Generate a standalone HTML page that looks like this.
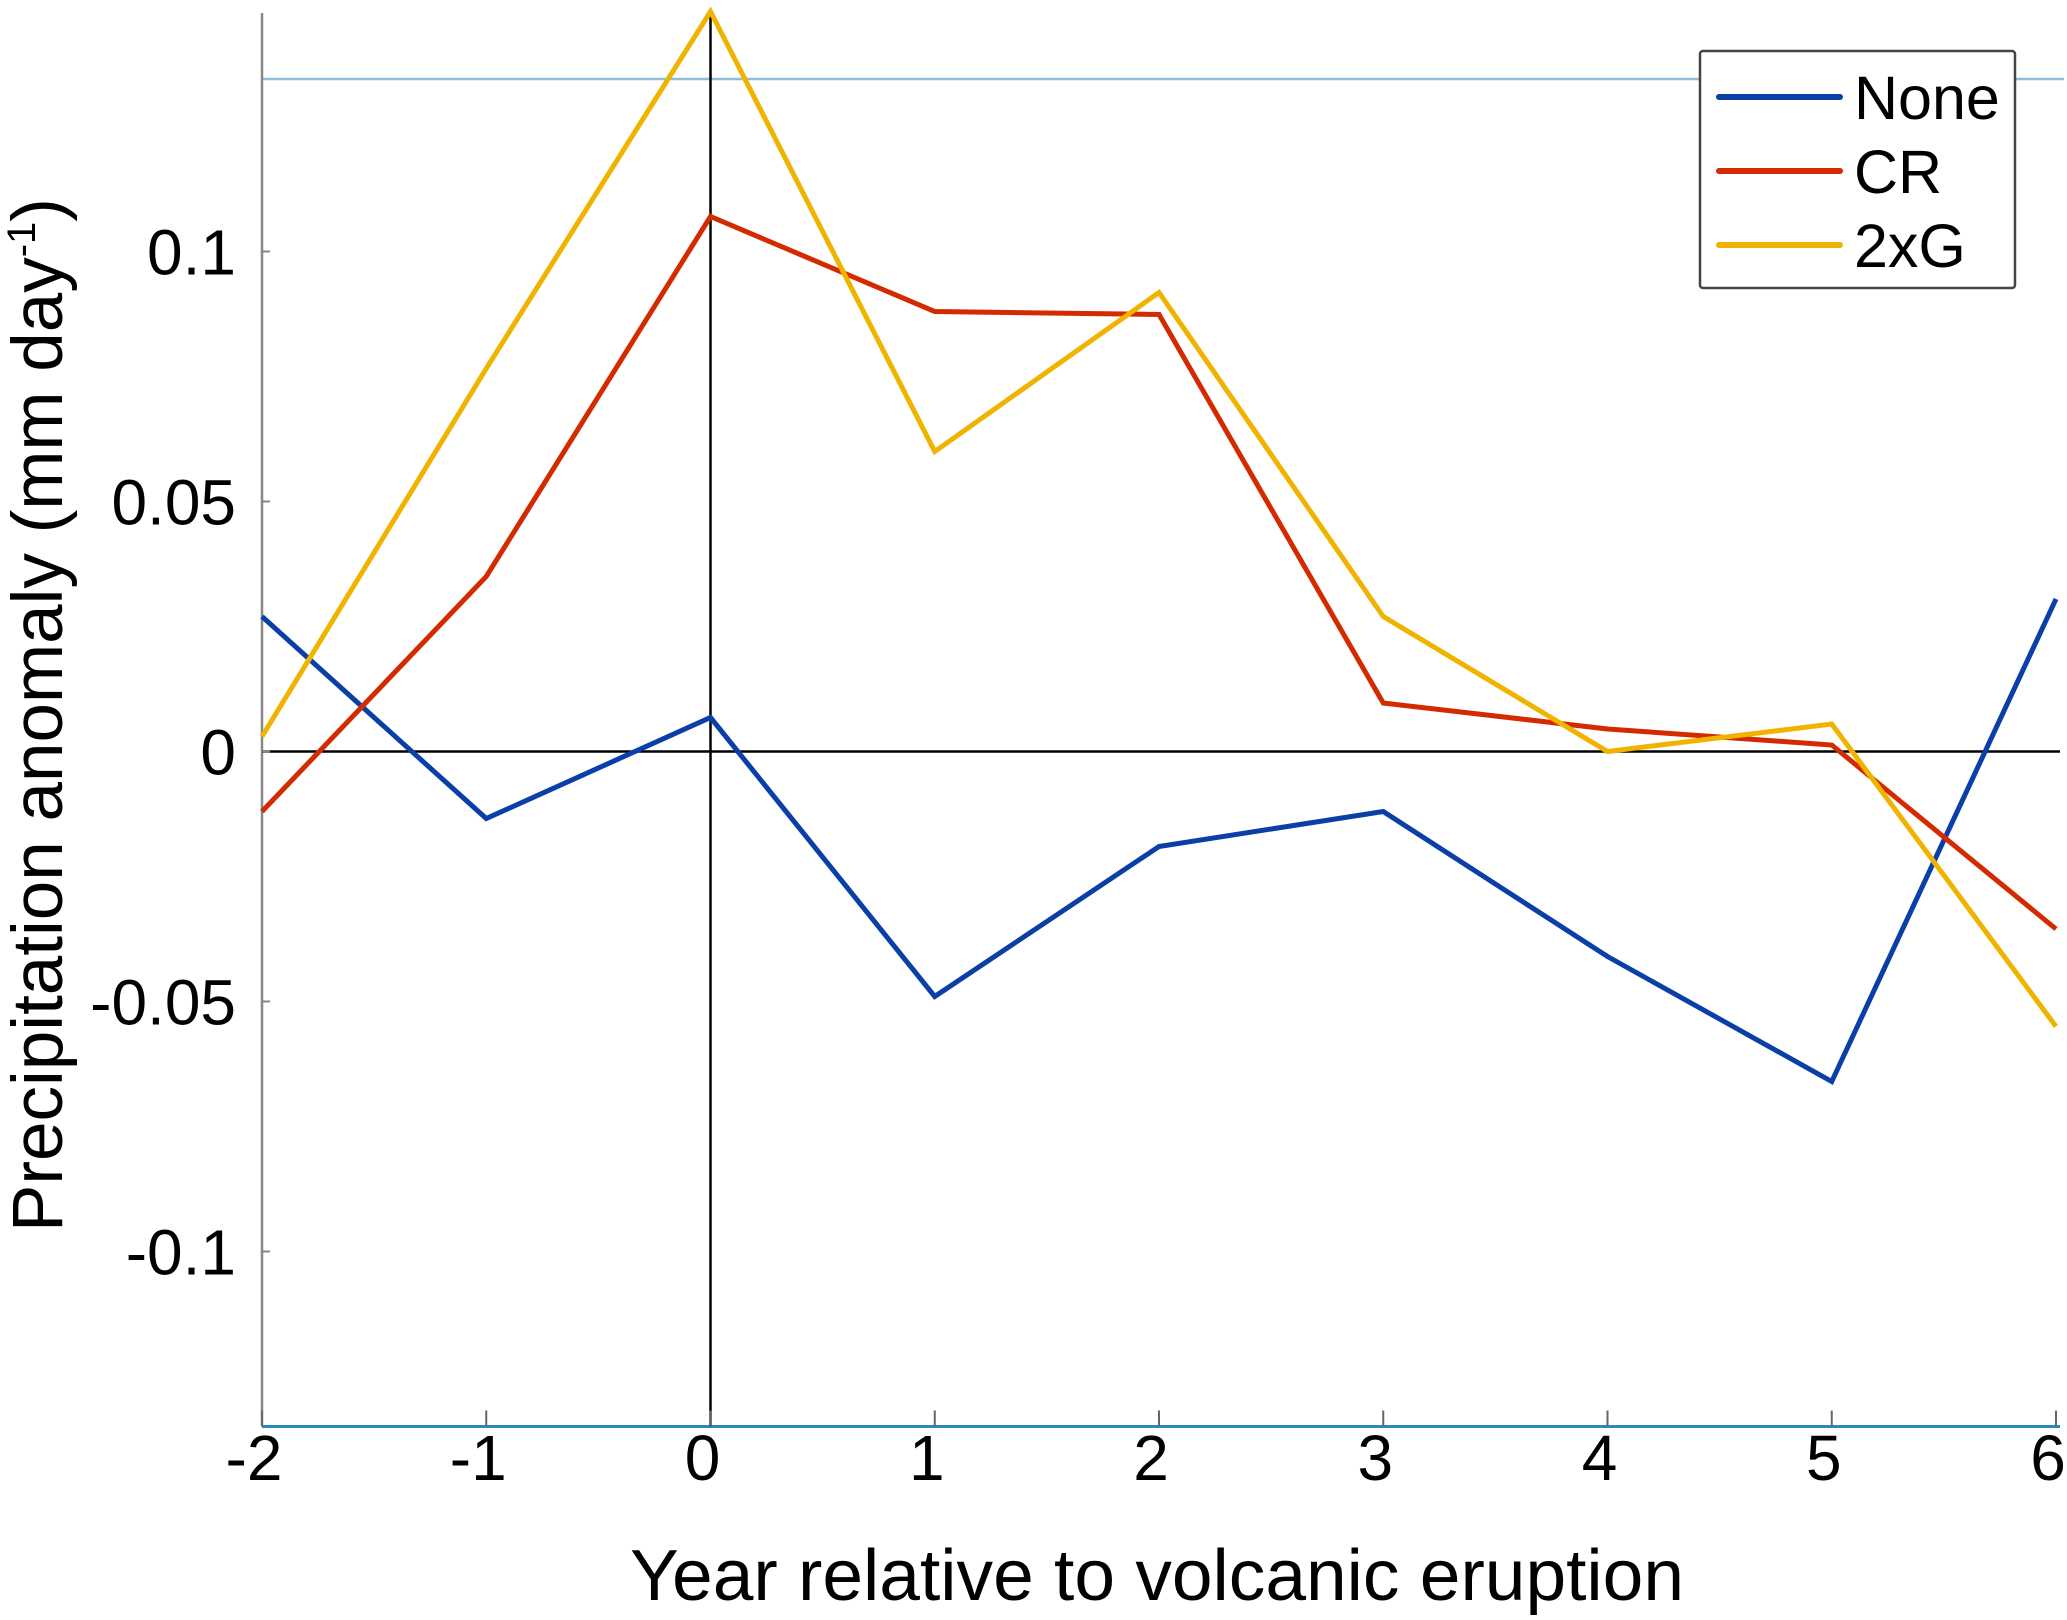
<!DOCTYPE html>
<html><head><meta charset="utf-8"><style>
html,body{margin:0;padding:0;background:#fff;}
svg{display:block;font-family:"Liberation Sans",Arial,sans-serif;}
</style></head><body>
<svg id="chart" width="2067" height="1620" viewBox="0 0 2067 1620" xmlns="http://www.w3.org/2000/svg">
<g id="axes"></g>
<g id="series"></g>
<g id="legend">
  <rect x="1700" y="51" width="315" height="237" fill="#fff" stroke="#444" stroke-width="2.5" rx="3"/>
  <line x1="1719" y1="97" x2="1840" y2="97" stroke="#0a3fa8" stroke-width="6" stroke-linecap="round"/>
  <text x="1854" y="119" font-size="61">None</text>
  <line x1="1719" y1="171" x2="1840" y2="171" stroke="#d42a00" stroke-width="6" stroke-linecap="round"/>
  <text x="1854" y="193" font-size="61">CR</text>
  <line x1="1719" y1="245" x2="1840" y2="245" stroke="#f0b400" stroke-width="6" stroke-linecap="round"/>
  <text x="1854" y="267" font-size="61">2xG</text>
</g>
<text x="1157" y="1600" font-size="72" text-anchor="middle" textLength="1054" lengthAdjust="spacingAndGlyphs">Year relative to volcanic eruption</text>
<text transform="translate(62,715) rotate(-90)" font-size="71" text-anchor="middle">Precipitation anomaly (mm day<tspan font-size="40" dy="-27">-1</tspan><tspan dy="27">)</tspan></text>
</svg>
<script>
const years = [-2,-1,0,1,2,3,4,5,6];
const noneVals = [0.027,-0.0134,0.0068,-0.049,-0.019,-0.012,-0.041,-0.066,0.0305];
const crVals = [-0.012,0.035,0.107,0.088,0.0874,0.0097,0.0045,0.0013,-0.0355];
const g2Vals = [0.003,0.0766,0.148,0.06,0.0918,0.027,0,0.0055,-0.055];
const yTicks = [-0.1,-0.05,0,0.05,0.1];
const yTickLabels = ["-0.1","-0.05","0","0.05","0.1"];
const refLine = 0.1345;

const X0=262, X1=2056, xMin=-2, xMax=6;
const Y0=751.5, yPer=5000;
const yTop=0.1477, yBot=-0.135;
function xs(v){return X0+(v-xMin)*(X1-X0)/(xMax-xMin);}
function ys(v){return Y0-v*yPer;}
const NS="http://www.w3.org/2000/svg";
function mk(tag,attrs,parent){const e=document.createElementNS(NS,tag);for(const k in attrs)e.setAttribute(k,attrs[k]);parent.appendChild(e);return e;}
const axes=document.getElementById('axes');
const series=document.getElementById('series');

let e;
e=mk('line',{x1:X0,y1:ys(refLine),x2:X1+8,y2:ys(refLine),stroke:'#8fbfd8','stroke-width':2.5},axes);


e=mk('line',{x1:X0,y1:ys(yTop),x2:X0,y2:ys(yBot),stroke:'#888','stroke-width':2.5},axes);


e=mk('line',{x1:X0,y1:ys(yBot),x2:X1+4,y2:ys(yBot),stroke:'#2a8abf','stroke-width':3},axes);


e=mk('line',{x1:X0,y1:ys(0),x2:X1+4,y2:ys(0),stroke:'#000','stroke-width':2.5},axes);


e=mk('line',{x1:xs(0),y1:ys(yTop),x2:xs(0),y2:ys(yBot),stroke:'#000','stroke-width':2.5},axes);



yTicks.forEach((t,i)=>{
  const tk=mk('line',{x1:X0,y1:ys(t),x2:X0+8,y2:ys(t),stroke:'#888','stroke-width':2},axes);
  
  
  const tx=mk('text',{x:X0-26,y:ys(t)+23,'font-size':64,'text-anchor':'end'},axes);
  tx.textContent=yTickLabels[i];
  
  
});
years.forEach(yv=>{
  const tk=mk('line',{x1:xs(yv),y1:ys(yBot),x2:xs(yv),y2:ys(yBot)-16,stroke:'#666','stroke-width':2},axes);
  
  
  const tx=mk('text',{x:xs(yv)-8,y:1480,'font-size':64,'text-anchor':'middle'},axes);
  tx.textContent=String(yv);
  
  
});

function drawSeries(vals,color,name){
  const pts=years.map((yv,i)=>xs(yv)+','+ys(vals[i])).join(' ');
  const p=mk('polyline',{points:pts,fill:'none',stroke:color,'stroke-width':5,'stroke-linejoin':'miter'},series);
  
  
}
drawSeries(noneVals,'#0a3fa8','series-none');
drawSeries(crVals,'#d42a00','series-cr');
drawSeries(g2Vals,'#f0b400','series-2xg');
</script>
</body></html>
